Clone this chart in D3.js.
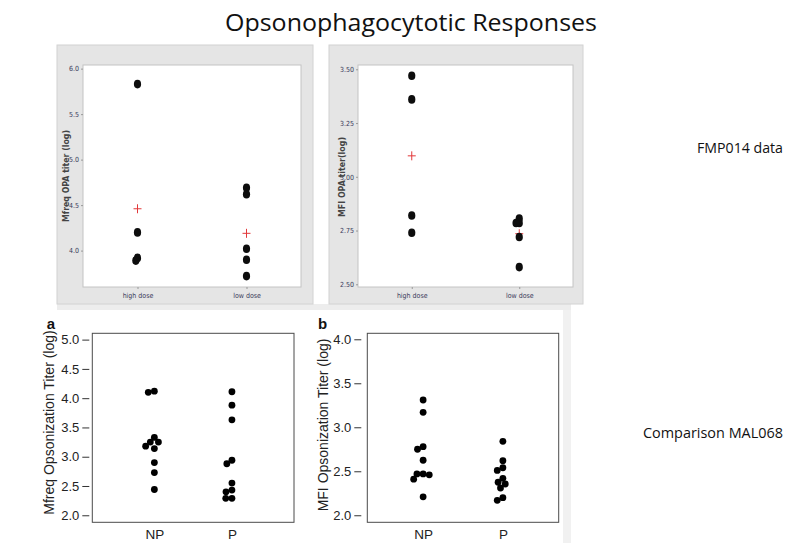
<!DOCTYPE html>
<html>
<head>
<meta charset="utf-8">
<script src="https://cdn.jsdelivr.net/npm/d3@7"></script>
<style>
  body { margin: 0; background: #fff; }
  svg { display: block; }
</style>
</head>
<body>
<div id="chart"></div>
<script>
// FMP014 data (top row)
var fmpGroups = ["high dose", "low dose"];
var fmpMfreqHigh = [5.83, 4.20, 3.92, 3.89];
var fmpMfreqLow = [4.69, 4.62, 4.02, 3.90, 3.72];
var fmpMfiHigh = [3.47, 3.36, 2.82, 2.74];
var fmpMfiLow = [2.806, 2.785, 2.785, 2.72, 2.58];
var fmpMfreqTicks = [4.0, 4.5, 5.0, 5.5, 6.0];
var fmpMfiTicks = [2.50, 2.75, 3.00, 3.25, 3.50];

// Comparison MAL068 (bottom row)
var malGroups = ["NP", "P"];
var malMfreqNP = [4.12, 4.10, 3.33, 3.25, 3.25, 3.18, 3.14, 2.90, 2.73, 2.44];
var malMfreqP = [4.11, 3.88, 3.63, 2.94, 2.88, 2.55, 2.43, 2.40, 2.29, 2.29];
var malMfiNP = [3.31, 3.17, 2.78, 2.75, 2.625, 2.47, 2.47, 2.46, 2.41, 2.21];
var malMfiP = [2.84, 2.62, 2.54, 2.51, 2.42, 2.375, 2.355, 2.31, 2.20, 2.17];
var malMfreqTicks = [2.0, 2.5, 3.0, 3.5, 4.0, 4.5, 5.0];
var malMfiTicks = [2.0, 2.5, 3.0, 3.5, 4.0];

var width = 793, height = 543;

var svg = d3.select("#chart").append("svg")
  .attr("width", width)
  .attr("height", height);

svg.append("rect").attr("width", width).attr("height", height).attr("fill", "#fff");

//simple beeswarm: each point goes as close to the centre line as it can
function swarm(values, yScale, d) {
  var placed = [];
  return values.map(function(v) {
    var y = yScale(v);
    var cands = [0];
    placed.forEach(function(q) {
      var dy = Math.abs(q.y - y);
      if (dy < d) {
        var dx = Math.sqrt(d * d - dy * dy);
        cands.push(q.dx + dx, q.dx - dx);
      }
    });
    cands.sort(function(a, b) { return Math.abs(a) - Math.abs(b) || a - b; });
    var dx = cands.find(function(c) {
      return placed.every(function(q) {
        return (q.dx - c) * (q.dx - c) + (q.y - y) * (q.y - y) >= d * d - 0.01;
      });
    });
    var p = { v: v, y: y, dx: dx };
    placed.push(p);
    return p;
  });
}

// title and side notes
svg.append("text")
  .attr("x", 411).attr("y", 31)
  .attr("text-anchor", "middle")
  .attr("font-family", "'Open Sans', 'Noto Sans', sans-serif")
  .attr("font-size", 24)
  .attr("textLength", 372)
  .attr("lengthAdjust", "spacingAndGlyphs")
  .attr("fill", "#111")
  .text("Opsonophagocytotic Responses");

svg.append("text")
  .attr("x", 783).attr("y", 153)
  .attr("text-anchor", "end")
  .attr("font-family", "'Open Sans', 'Noto Sans', sans-serif")
  .attr("font-size", 14)
  .attr("textLength", 86)
  .attr("lengthAdjust", "spacingAndGlyphs")
  .attr("fill", "#111")
  .text("FMP014 data");

svg.append("text")
  .attr("x", 783).attr("y", 438)
  .attr("text-anchor", "end")
  .attr("font-family", "'Open Sans', 'Noto Sans', sans-serif")
  .attr("font-size", 14)
  .attr("textLength", 140)
  .attr("lengthAdjust", "spacingAndGlyphs")
  .attr("fill", "#111")
  .text("Comparison MAL068");

// light bands left over from the pasted figures
svg.append("rect").attr("x", 57).attr("y", 304).attr("width", 514).attr("height", 6).attr("fill", "#ededed");
svg.append("rect").attr("x", 563).attr("y", 310).attr("width", 8).attr("height", 233).attr("fill", "#f1f1f1");

//Top row panels
function drawTopPanel(cfg) {
  svg.append("rect")
    .attr("x", cfg.panel[0]).attr("y", cfg.panel[1])
    .attr("width", cfg.panel[2]).attr("height", cfg.panel[3])
    .attr("fill", "#e5e5e5")
    .attr("stroke", "#d2d2d2");

  var p = cfg.plot;
  svg.append("rect")
    .attr("x", p[0]).attr("y", p[1])
    .attr("width", p[2]).attr("height", p[3])
    .attr("fill", "#fff")
    .attr("stroke", "#c4c4c4");

  var yScale = d3.scaleLinear().domain(cfg.domain).range([p[1] + p[3], p[1]]);
  var xScale = d3.scalePoint().domain(fmpGroups).range([p[0], p[0] + p[2]]).padding(0.5);

  var yAxis = d3.axisLeft(yScale)
    .tickValues(cfg.ticks)
    .tickFormat(d3.format(cfg.fmt))
    .tickSize(2)
    .tickPadding(2);

  var gy = svg.append("g")
    .attr("transform", "translate(" + p[0] + ",0)")
    .call(yAxis);
  gy.select(".domain").remove();
  gy.selectAll("line").attr("stroke", "#999");
  gy.selectAll("text")
    .attr("font-family", "'Liberation Sans Narrow', 'DejaVu Sans Condensed', sans-serif")
    .attr("font-size", 7)
    .attr("fill", "#3a3a5a");

  var xAxis = d3.axisBottom(xScale).tickSize(2).tickPadding(4.5);
  var gx = svg.append("g")
    .attr("transform", "translate(0," + (p[1] + p[3]) + ")")
    .call(xAxis);
  gx.select(".domain").remove();
  gx.selectAll("line").attr("stroke", "#999");
  gx.selectAll("text")
    .attr("font-family", "'Liberation Sans Narrow', 'DejaVu Sans Condensed', sans-serif")
    .attr("font-size", 7)
    .attr("fill", "#3a3a5a");

  svg.append("text")
    .attr("transform", "translate(" + cfg.titleX + "," + cfg.titleY + ") rotate(-90)")
    .attr("dy", "0.35em")
    .attr("text-anchor", "middle")
    .attr("font-family", "'DejaVu Sans', sans-serif")
    .attr("font-weight", "bold")
    .attr("font-size", 8)
    .attr("textLength", cfg.titleLen)
    .attr("lengthAdjust", "spacingAndGlyphs")
    .attr("fill", "#444")
    .text(cfg.title);

  cfg.series.forEach(function(vals, i) {
    var cx = xScale(fmpGroups[i]);
    var my = yScale(d3.mean(vals));

    // mean marker
    svg.append("path")
      .attr("d", "M" + (cx - 4) + "," + my + "H" + (cx + 4) + "M" + cx + "," + (my - 4.5) + "V" + (my + 4.5))
      .attr("stroke", "#e2383a")
      .attr("stroke-width", 1)
      .attr("fill", "none");

    svg.append("g").selectAll("ellipse")
      .data(swarm(vals, yScale, 3.2))
      .enter().append("ellipse")
      .attr("cx", function(d) { return cx + d.dx; })
      .attr("cy", function(d) { return d.y; })
      .attr("rx", 3.6)
      .attr("ry", 4.3)
      .attr("fill", "#0d0d0d");
  });
}

drawTopPanel({
  panel: [57, 45, 256, 259],
  plot: [83, 65, 218, 222],
  domain: [3.6, 6.04],
  ticks: fmpMfreqTicks,
  fmt: ".1f",
  title: "Mfreq OPA titer (log)",
  titleX: 66, titleY: 176, titleLen: 92,
  series: [fmpMfreqHigh, fmpMfreqLow]
});

drawTopPanel({
  panel: [329, 45, 254, 259],
  plot: [358, 65, 215, 222],
  domain: [2.4874, 3.52],
  ticks: fmpMfiTicks,
  fmt: ".2f",
  title: "MFI OPA titer(log)",
  titleX: 342, titleY: 177, titleLen: 80,
  series: [fmpMfiHigh, fmpMfiLow]
});

//Bottom row panels
function drawBottomPanel(cfg) {
  var b = cfg.box;
  var yScale = d3.scaleLinear().domain(cfg.domain).range([b[1] + b[3], b[1]]);
  var xScale = d3.scalePoint().domain(malGroups).range([b[0], b[0] + b[2]]).padding(cfg.pad);

  svg.append("rect")
    .attr("x", b[0]).attr("y", b[1])
    .attr("width", b[2]).attr("height", b[3])
    .attr("fill", "none")
    .attr("stroke", "#4a4a4a")
    .attr("stroke-width", 1);

  var yAxis = d3.axisLeft(yScale)
    .tickValues(cfg.ticks)
    .tickFormat(d3.format(".1f"))
    .tickSize(7)
    .tickPadding(3);

  var gy = svg.append("g")
    .attr("transform", "translate(" + (b[0] - cfg.gap) + ",0)")
    .call(yAxis);
  gy.select(".domain").remove();
  gy.selectAll("line").attr("stroke", "#333");
  gy.selectAll("text")
    .attr("font-family", "'Liberation Sans', Arial, sans-serif")
    .attr("font-size", 13)
    .attr("fill", "#222");

  var xAxis = d3.axisBottom(xScale).tickSize(0).tickPadding(7);
  var gx = svg.append("g")
    .attr("transform", "translate(0," + (b[1] + b[3]) + ")")
    .call(xAxis);
  gx.select(".domain").remove();
  gx.selectAll("text")
    .attr("font-family", "'Liberation Sans', Arial, sans-serif")
    .attr("font-size", 13.5)
    .attr("fill", "#222");

  svg.append("text")
    .attr("transform", "translate(" + cfg.titleX + "," + cfg.titleY + ") rotate(-90)")
    .attr("dy", "0.35em")
    .attr("text-anchor", "middle")
    .attr("font-family", "'Liberation Sans', Arial, sans-serif")
    .attr("font-size", 14)
    .attr("fill", "#222")
    .text(cfg.title);

  svg.append("text")
    .attr("x", cfg.letter[0]).attr("y", cfg.letter[1])
    .attr("text-anchor", "middle")
    .attr("font-family", "'Liberation Sans', Arial, sans-serif")
    .attr("font-weight", "bold")
    .attr("font-size", 15)
    .attr("fill", "#111")
    .text(cfg.letterText);

  cfg.series.forEach(function(vals, i) {
    var cx = xScale(malGroups[i]);
    svg.append("g").selectAll("circle")
      .data(swarm(vals, yScale, 6.2))
      .enter().append("circle")
      .attr("cx", function(d) { return cx + d.dx; })
      .attr("cy", function(d) { return d.y; })
      .attr("r", 3.4)
      .attr("fill", "#000");
  });
}

drawBottomPanel({
  box: [92.3, 333.3, 201.7, 189],
  domain: [1.88, 5.108],
  pad: 0.8,
  gap: 3,
  ticks: malMfreqTicks,
  title: "Mfreq Opsonization Titer (log)",
  titleX: 49, titleY: 422.5,
  letter: [51, 329], letterText: "a",
  series: [malMfreqNP, malMfreqP]
});

drawBottomPanel({
  box: [367.3, 333.3, 191.4, 189],
  domain: [1.92, 4.068],
  pad: 0.7,
  gap: 6,
  ticks: malMfiTicks,
  title: "MFI Opsonization Titer (log)",
  titleX: 323.5, titleY: 425,
  letter: [322.5, 329], letterText: "b",
  series: [malMfiNP, malMfiP]
});
</script>
</body>
</html>
